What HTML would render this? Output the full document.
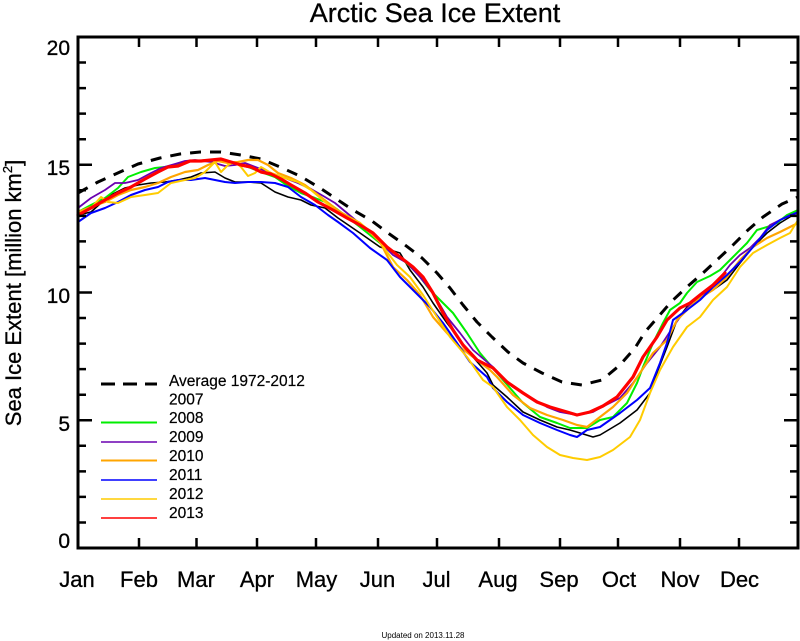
<!DOCTYPE html>
<html><head><meta charset="utf-8"><style>
html,body{margin:0;padding:0;background:#fff;}
svg{display:block;}
text{font-family:"Liberation Sans",sans-serif;fill:#000;}
</style></head><body>
<svg width="800" height="641" viewBox="0 0 800 641" xmlns="http://www.w3.org/2000/svg">
<rect width="800" height="641" fill="#fff"/>
<text x="435" y="22" font-size="27" text-anchor="middle" stroke="#000" stroke-width="0.3">Arctic Sea Ice Extent</text>

<g fill="none" stroke-linejoin="round" stroke-linecap="round">
<polyline stroke="#000" stroke-width="3" stroke-dasharray="11 9" stroke-linecap="butt" points="78,193 98,182 120,172 138,164 160,158 180,154 200,152 221,152 241,155 261,159 280,167 300,176 320,188 335,198 353,210 372,221 388,233 405,245 422,258 437,273 450,288 463,305 477,322 492,337 508,352 523,363 542,373 562,382 582,385 602,380 620,365 635,348 645,332 658,317 672,301 687,287 703,273 718,259 733,245 748,230 763,217 782,204 798,197"/>
<!-- 2007 black -->
<polyline stroke="#000" stroke-width="1.6" points="78,215 91,212 101,203 111,195 125,188 138,185 151,183 165,182 178,180 191,177 201,173 215,172 225,178 235,182 248,182 261,183 275,192 288,197 301,200 311,205 325,208 338,218 360,233 380,247 400,253 410,270 423,287 433,303 447,323 460,340 473,357 487,373 493,385 507,397 523,412 540,420 557,427 570,430 580,433 593,437 600,435 620,423 637,410 650,393 658,370 667,347 677,320 690,303 700,298 713,290 727,280 740,263 753,247 767,233 780,223 798,212" />
<!-- 2008 green -->
<polyline stroke="#00ee00" stroke-width="2" points="78,212 91,205 105,198 118,188 128,177 141,172 155,168 165,167 175,165 185,162 195,161 208,160 221,160 235,163 248,167 261,172 275,177 288,186 301,193 315,198 328,203 338,210 360,227 380,243 400,257 417,273 430,290 440,300 453,313 467,333 480,353 497,373 510,388 523,403 540,417 557,423 570,428 587,428 600,420 613,417 627,403 637,383 643,367 653,343 663,323 670,310 680,303 687,293 697,282 710,276 720,270 733,257 747,243 757,230 767,227 777,223 787,215 798,210"/>
<!-- 2009 purple -->
<polyline stroke="#6a00b0" stroke-width="1.8" points="78,208 91,198 105,190 115,183 125,183 138,180 151,173 161,168 175,164 185,161 195,160 211,162 225,166 235,165 245,163 258,168 271,173 285,178 298,183 311,189 325,197 335,203 353,218 373,235 393,255 407,263 420,277 433,293 447,317 460,333 473,350 493,367 507,382 513,387 530,397 547,407 560,412 577,415 593,412 600,408 620,398 633,383 647,363 660,347 673,327 683,313 697,297 707,292 720,278 730,265 740,255 750,248 760,238 770,225 780,220 790,215 798,213"/>
<!-- 2010 orange -->
<polyline stroke="#ffa500" stroke-width="2.2" points="78,212 91,207 105,202 118,195 131,190 145,187 158,183 171,177 185,172 198,170 208,165 218,161 228,163 238,162 248,160 258,160 268,165 278,173 291,178 305,185 318,195 331,205 340,212 360,223 380,242 393,267 407,280 420,295 433,317 447,333 460,347 477,360 490,370 497,377 513,395 530,408 547,415 563,420 577,425 587,427 600,417 613,407 627,393 640,373 653,353 667,340 677,320 690,307 700,298 713,290 727,277 740,260 753,247 767,238 780,232 790,227 798,223"/>
<!-- 2011 blue -->
<polyline stroke="#0000ff" stroke-width="2" points="78,222 91,213 105,208 118,202 131,195 145,190 158,187 168,182 178,180 191,180 205,178 215,180 225,182 235,183 248,182 261,182 275,183 288,187 301,197 315,205 328,215 338,222 353,233 370,248 387,260 400,277 413,290 430,307 443,323 457,343 470,362 487,377 493,388 507,402 523,415 540,423 557,430 570,435 577,437 587,430 600,427 620,413 637,400 650,388 660,363 667,343 673,320 687,310 700,300 713,287 727,275 740,262 753,247 767,230 780,220 798,212"/>
<!-- 2012 gold -->
<polyline stroke="#ffcc00" stroke-width="2" points="78,213 91,208 101,197 108,202 118,203 131,197 145,195 158,193 171,183 185,180 195,178 205,172 215,162 221,172 228,165 235,162 241,167 248,176 255,173 261,167 271,173 285,178 298,182 311,190 325,202 338,213 360,223 377,237 387,252 397,265 410,277 423,295 437,317 450,337 467,357 483,380 493,387 507,407 520,420 533,435 547,447 560,455 573,458 587,460 600,457 613,450 630,437 640,420 650,393 660,370 673,347 687,327 700,317 713,300 727,287 740,267 753,253 767,245 780,238 790,233 798,220"/>
<!-- 2013 red -->
<polyline stroke="#ff0000" stroke-width="3.2" points="78,215 91,208 105,200 118,193 131,187 145,179 158,172 168,167 178,166 190,161 201,161 211,160 221,159 231,162 241,165 251,167 261,172 271,174 281,179 291,185 305,193 318,202 333,210 347,218 360,225 373,233 387,247 400,257 413,267 423,277 433,293 443,313 453,330 463,345 477,360 493,368 507,382 523,393 537,402 550,407 567,412 577,415 590,412 603,406 617,397 633,377 643,357 657,337 667,320 680,308 690,303 700,295 713,285 725,273"/>
</g>

<rect x="78" y="37" width="720" height="511" fill="none" stroke="#000" stroke-width="3"/>
<g stroke="#000" stroke-width="2.5">
<path d="M78 420.25H92M78 292.5H92M78 164.75H92
M78 522.45H86M78 496.9H86M78 471.35H86M78 445.8H86M78 394.7H86M78 369.15H86M78 343.6H86M78 318.05H86M78 266.95H86M78 241.4H86M78 215.85H86M78 190.3H86M78 139.2H86M78 113.65H86M78 88.1H86M78 62.55H86
M798 420.25H784M798 292.5H784M798 164.75H784
M798 522.45H790M798 496.9H790M798 471.35H790M798 445.8H790M798 394.7H790M798 369.15H790M798 343.6H790M798 318.05H790M798 266.95H790M798 241.4H790M798 215.85H790M798 190.3H790M798 139.2H790M798 113.65H790M798 88.1H790M798 62.55H790"/>
<path d="M139 548V538M196.5 548V538M257 548V538M316 548V538M378 548V538M437 548V538M499 548V538M560 548V538M618 548V538M680 548V538M739 548V538
M139 37V47M196.5 37V47M257 37V47M316 37V47M378 37V47M437 37V47M499 37V47M560 37V47M618 37V47M680 37V47M739 37V47"/>
</g>

<g font-size="21" text-anchor="end" stroke="#000" stroke-width="0.3">
<text x="70" y="55">20</text>
<text x="70" y="175">15</text>
<text x="70" y="303">10</text>
<text x="70" y="431">5</text>
<text x="70" y="548">0</text>
</g>
<text transform="translate(21,293) rotate(-90)" font-size="22" text-anchor="middle" stroke="#000" stroke-width="0.3">Sea Ice Extent [million km<tspan font-size="13" dy="-9">2</tspan><tspan dy="9">]</tspan></text>

<g font-size="22" text-anchor="middle" stroke="#000" stroke-width="0.3">
<text x="77" y="587">Jan</text>
<text x="139" y="587">Feb</text>
<text x="196" y="587">Mar</text>
<text x="257" y="587">Apr</text>
<text x="316.5" y="587">May</text>
<text x="377.5" y="587">Jun</text>
<text x="436.5" y="587">Jul</text>
<text x="498" y="587">Aug</text>
<text x="559" y="587">Sep</text>
<text x="619" y="587">Oct</text>
<text x="680" y="587">Nov</text>
<text x="739.5" y="587">Dec</text>
</g>

<g>
<line x1="101" y1="384" x2="157" y2="384" stroke="#000" stroke-width="3" stroke-dasharray="14 8"/>
<line x1="101" y1="422.5" x2="157" y2="422.5" stroke="#00ee00" stroke-width="2"/>
<line x1="101" y1="442" x2="157" y2="442" stroke="#6a00b0" stroke-width="1.5"/>
<line x1="101" y1="460.5" x2="157" y2="460.5" stroke="#ffa500" stroke-width="2"/>
<line x1="101" y1="480" x2="157" y2="480" stroke="#0000ff" stroke-width="1.5"/>
<line x1="101" y1="499" x2="157" y2="499" stroke="#ffcc00" stroke-width="1.5"/>
<line x1="101" y1="518" x2="157" y2="518" stroke="#ff0000" stroke-width="1.5"/>
</g>
<g font-size="15.5" stroke="#000" stroke-width="0.2">
<text x="169" y="386">Average 1972-2012</text>
<text x="169" y="404.5">2007</text>
<text x="169" y="423">2008</text>
<text x="169" y="442">2009</text>
<text x="169" y="461">2010</text>
<text x="169" y="480">2011</text>
<text x="169" y="499">2012</text>
<text x="169" y="518">2013</text>
</g>

<text x="423" y="638" font-size="8" text-anchor="middle">Updated on 2013.11.28</text>
</svg>
</body></html>
